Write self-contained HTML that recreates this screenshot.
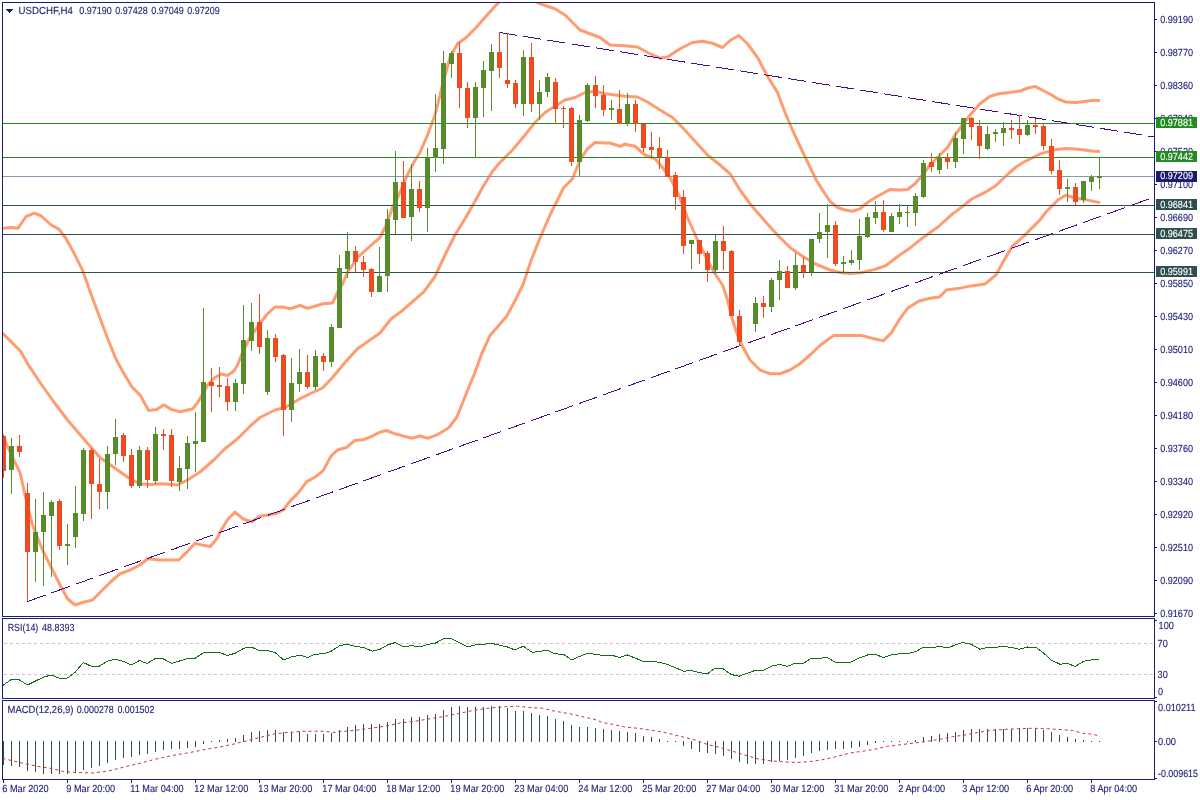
<!DOCTYPE html>
<html lang="en"><head><meta charset="utf-8"><title>USDCHF,H4</title>
<style>html,body{margin:0;padding:0;background:#fff;width:1200px;height:800px;overflow:hidden}svg{display:block}text{font-family:"Liberation Sans",sans-serif;font-size:10.3px;text-rendering:geometricPrecision;fill:#1b1b72;stroke:#1b1b72;stroke-width:.12px}.w{fill:#fff;stroke:#fff}.c{shape-rendering:crispEdges}</style></head><body>
<svg width="1200" height="800" viewBox="0 0 1200 800">
<rect width="1200" height="800" fill="#fff"/>
<defs><clipPath id="cm"><rect x="3" y="3" width="1151" height="613"/></clipPath><clipPath id="cr"><rect x="3" y="619" width="1151" height="79"/></clipPath><clipPath id="cd"><rect x="3" y="701" width="1151" height="78"/></clipPath></defs>
<g clip-path="url(#cm)">
<polyline fill="none" stroke="#ff9c72" stroke-width="3" stroke-linejoin="round" stroke-linecap="butt"  points="-2,228.5 2.75,228.3 11,227.5 17.9,228.3 26.1,216.5 34.4,213.2 41.25,216 50.9,224.75 59.1,229.4 66,238.5 74.25,253.6 82.5,270.1 90.75,293.5 99,315.5 107.25,337.5 115.5,358.1 123.75,373.25 132,387 140.25,395.25 148.5,410.4 156.75,409.6 163.6,404.9 171.9,409.6 180.1,411.75 192.5,409 198,402.1 203.5,392.5 207.5,385 215,377.5 221,374 227.5,375.5 233.75,371.25 237.5,365 242.5,352.5 250,337.5 258.75,325 267.5,313.75 275,307 282.5,307 290,308.75 300,305.5 307.5,308.25 315,306.25 322.5,303.75 332.5,303 337.5,292.5 342.5,284 347.5,272.5 357.5,257.5 370,246.25 380,237.5 386.25,225 392.5,207.5 400,192.5 406.25,177.5 413.75,162.5 420,152.5 427.5,135 435,115 442.5,85 450,57.5 457.5,43.75 466.25,37.5 475,28.75 485,17.5 495,6.25 498.75,2.5 506,-4 516,-8 528,-4 537.5,2.5 545,5.5 555,8.75 565,15 572.5,22.5 580,30 590,33.75 600,37.5 610,45 625,45.75 637.5,47 647.5,52.5 660,58 667.5,57 680,48.75 692.5,42.5 702.5,41.25 712.5,43.25 722.5,47.5 730,40.5 738.75,35.5 747.5,43.75 757.5,57.5 767.5,76.25 777.5,92.5 785,112.5 792.5,130 800,146.25 808,163 816.25,180 822.5,190 830,201.25 837.5,207.5 845,210 852.5,211.25 860,208.75 867.5,202.5 877.5,196.25 890,189.5 900,190 907.5,189.5 915,183.75 922.5,175 930,165 940,155 947.5,147.5 955,135 962.5,125 970,115 980,103.75 990,96.25 1000,93.5 1010,92.5 1020,91 1028,88 1035,86.4 1042,90 1050,94 1058,99 1066,102 1076,102.4 1084,101.4 1092,100.6 1100,100.6"/>
<polyline fill="none" stroke="#ff9c72" stroke-width="3" stroke-linejoin="round" stroke-linecap="butt"  points="-2,330 2.75,333.4 11,341.6 20.6,351.25 27.5,363.6 41.25,384.25 55,403.5 67.5,420 82.5,437.5 100,457.5 117.5,470 130,478.75 140,483.75 150,484.5 162.5,483.75 177.5,485 187.5,480 200,472 213.75,460 225,448.75 237.5,438.75 250,426.25 260,417.5 275,410 285,407.5 300,398.75 310,393.75 322.5,388 332.5,377.5 345,362.5 357.5,348.75 370,340 380,333 391,319 402,310.9 413,301.25 424,291.6 435,276.5 445,255 455,235 465,218.75 475,201.25 482.5,187.5 492.5,171.25 500,162.5 512.5,150 525,135 535,122.5 545,112.5 555,106.25 565,100 575,97.5 585,92.5 595,91.25 605,93.75 615,95 625,96.25 637.5,97 647.5,102 660,110 672.5,117.5 682.5,127.5 695,141.25 707.5,155 720,165 730,173.75 740,190 750,203.75 765,221.25 777.5,235 790,247.5 802.5,256.25 815,263.75 830,270 840,272.5 850,273.5 861,272.7 875,269.4 886,265.5 897,257 910.75,247.4 924.5,236.4 938.25,226.75 952,214.4 963,206.1 971.25,199.25 985,192.4 996,185.5 1008,174 1016,167 1024,162 1032,158 1040,154 1048,151.6 1056,149.6 1066,148.6 1076,149 1084,150 1092,151 1100,151.6"/>
<polyline fill="none" stroke="#ff9c72" stroke-width="3" stroke-linejoin="round" stroke-linecap="butt"  points="-2,425 2.5,435 12.5,457.5 20,472.5 25,495 32.5,525 42.5,550 52.5,570 60,585 67.5,598.75 75,605 82.5,602.5 92.5,600 100,592.5 110,582.5 120,573.75 130,570 140,565 147.5,558.75 160,560 178.75,560 188.25,550.6 195.1,543.2 202,545.1 210.25,546.5 217.1,538.25 221.25,530 228.1,519 235,512.1 243.25,519 251.5,521.75 259.75,516.25 268,514.9 276.25,513.5 283.1,510.2 290,501.1 298.25,492.9 306.5,481.9 314.75,477.2 323,470.9 331.25,455.75 338.1,449.7 346.4,447.5 354.6,440.6 362.9,439.8 372.5,436 379.4,432.4 386.25,430.5 393.1,433.2 400,435.1 411.6,438.2 419.9,436 428.1,438.2 437.75,434.6 448.75,427.75 457,416.75 462.5,403 468,389.25 474.9,372.75 481.75,353.5 490,335.6 498.25,326 506.5,316.4 514.75,301.25 523,284.75 528.5,268.25 531.25,260 540,238 550,215 557.5,200 563.75,187.5 572.5,178.75 580,160 587.5,148.75 595,142.5 605,143 610,143 620,146.25 625,144.25 635,146.25 645,155 655,158.75 662.5,167.5 670,177.5 678.75,195 687.5,217.5 697.5,240 707.5,260 715,273.75 722.5,285 727.5,300 732.5,320 737.5,335 742.5,346.25 750,360 760,370 770,373.75 780,373.75 790,370 800,363.75 810,355 820,345.5 833.75,335.4 847.5,335.4 861.25,335.4 875,339 883.25,340.9 891.5,332.6 899.75,318.9 908,307.9 919,301 930,298.25 939.6,296.9 946.5,290 957.5,288.6 971.25,285.9 985,284 996,274.9 1004.25,259.75 1012.5,246 1023.5,236.4 1034.5,225.4 1040,220 1046,212 1052,206 1058,200 1066,195 1074,198 1082,199 1090,200.6 1100,202.6"/>
<g class="c">
<rect x="3" y="123" width="1151" height="1" fill="#228b22"/>
<rect x="3" y="157" width="1151" height="1" fill="#228b22"/>
<rect x="3" y="176" width="1151" height="1" fill="#8a96ac"/>
<rect x="3" y="205" width="1151" height="1" fill="#2f4f4f"/>
<rect x="3" y="234" width="1151" height="1" fill="#2f4f4f"/>
<rect x="3" y="272" width="1151" height="1" fill="#2f4f4f"/>
<line x1="27.5" y1="601.5" x2="1149.5" y2="198.8" stroke="#4b0a8a" stroke-width="1" stroke-dasharray="19.12 6.375"/>
<line x1="499.5" y1="32.5" x2="1154" y2="136.9" stroke="#4b0a8a" stroke-width="1" stroke-dasharray="18.23 6.08"/>
<rect x="3" y="435" width="1" height="43" fill="#f04a1e"/>
<rect x="1" y="436" width="5" height="35" fill="#f04a1e"/>
<rect x="11" y="438" width="1" height="56" fill="#568c2c"/>
<rect x="9" y="446" width="5" height="24" fill="#568c2c"/>
<rect x="19" y="435" width="1" height="22" fill="#f04a1e"/>
<rect x="17" y="446" width="5" height="6" fill="#f04a1e"/>
<rect x="27" y="483" width="1" height="118" fill="#f04a1e"/>
<rect x="25" y="493" width="5" height="59" fill="#f04a1e"/>
<rect x="35" y="499" width="1" height="83" fill="#568c2c"/>
<rect x="33" y="532" width="5" height="20" fill="#568c2c"/>
<rect x="43" y="492" width="1" height="94" fill="#568c2c"/>
<rect x="41" y="515" width="5" height="17" fill="#568c2c"/>
<rect x="51" y="500" width="1" height="77" fill="#568c2c"/>
<rect x="49" y="502" width="5" height="14" fill="#568c2c"/>
<rect x="59" y="499" width="1" height="51" fill="#f04a1e"/>
<rect x="57" y="501" width="5" height="45" fill="#f04a1e"/>
<rect x="67" y="524" width="1" height="41" fill="#568c2c"/>
<rect x="65" y="544" width="5" height="2" fill="#568c2c"/>
<rect x="75" y="486" width="1" height="62" fill="#568c2c"/>
<rect x="73" y="513" width="5" height="24" fill="#568c2c"/>
<rect x="83" y="448" width="1" height="73" fill="#568c2c"/>
<rect x="81" y="450" width="5" height="64" fill="#568c2c"/>
<rect x="91" y="448" width="1" height="71" fill="#f04a1e"/>
<rect x="89" y="450" width="5" height="34" fill="#f04a1e"/>
<rect x="99" y="459" width="1" height="50" fill="#f04a1e"/>
<rect x="97" y="484" width="5" height="8" fill="#f04a1e"/>
<rect x="107" y="446" width="1" height="63" fill="#568c2c"/>
<rect x="105" y="454" width="5" height="38" fill="#568c2c"/>
<rect x="115" y="419" width="1" height="46" fill="#568c2c"/>
<rect x="113" y="437" width="5" height="17" fill="#568c2c"/>
<rect x="123" y="433" width="1" height="29" fill="#f04a1e"/>
<rect x="121" y="435" width="5" height="21" fill="#f04a1e"/>
<rect x="131" y="449" width="1" height="39" fill="#f04a1e"/>
<rect x="129" y="455" width="5" height="31" fill="#f04a1e"/>
<rect x="139" y="446" width="1" height="42" fill="#568c2c"/>
<rect x="137" y="450" width="5" height="36" fill="#568c2c"/>
<rect x="147" y="447" width="1" height="41" fill="#f04a1e"/>
<rect x="145" y="450" width="5" height="30" fill="#f04a1e"/>
<rect x="155" y="427" width="1" height="57" fill="#568c2c"/>
<rect x="153" y="434" width="5" height="47" fill="#568c2c"/>
<rect x="163" y="429" width="1" height="21" fill="#f04a1e"/>
<rect x="161" y="434" width="5" height="2" fill="#f04a1e"/>
<rect x="171" y="429" width="1" height="58" fill="#f04a1e"/>
<rect x="169" y="435" width="5" height="46" fill="#f04a1e"/>
<rect x="179" y="456" width="1" height="35" fill="#568c2c"/>
<rect x="177" y="468" width="5" height="14" fill="#568c2c"/>
<rect x="187" y="436" width="1" height="53" fill="#568c2c"/>
<rect x="185" y="443" width="5" height="26" fill="#568c2c"/>
<rect x="195" y="412" width="1" height="60" fill="#568c2c"/>
<rect x="193" y="441" width="5" height="3" fill="#568c2c"/>
<rect x="203" y="308" width="1" height="134" fill="#568c2c"/>
<rect x="201" y="382" width="5" height="60" fill="#568c2c"/>
<rect x="211" y="368" width="1" height="44" fill="#f04a1e"/>
<rect x="209" y="382" width="5" height="4" fill="#f04a1e"/>
<rect x="219" y="367" width="1" height="30" fill="#f04a1e"/>
<rect x="217" y="385" width="5" height="2" fill="#f04a1e"/>
<rect x="227" y="378" width="1" height="33" fill="#f04a1e"/>
<rect x="225" y="386" width="5" height="16" fill="#f04a1e"/>
<rect x="235" y="379" width="1" height="32" fill="#568c2c"/>
<rect x="233" y="383" width="5" height="19" fill="#568c2c"/>
<rect x="243" y="305" width="1" height="89" fill="#568c2c"/>
<rect x="241" y="340" width="5" height="44" fill="#568c2c"/>
<rect x="251" y="303" width="1" height="48" fill="#568c2c"/>
<rect x="249" y="322" width="5" height="19" fill="#568c2c"/>
<rect x="259" y="294" width="1" height="60" fill="#f04a1e"/>
<rect x="257" y="322" width="5" height="25" fill="#f04a1e"/>
<rect x="267" y="330" width="1" height="65" fill="#568c2c"/>
<rect x="265" y="338" width="5" height="54" fill="#568c2c"/>
<rect x="275" y="334" width="1" height="28" fill="#f04a1e"/>
<rect x="273" y="338" width="5" height="19" fill="#f04a1e"/>
<rect x="283" y="354" width="1" height="82" fill="#f04a1e"/>
<rect x="281" y="355" width="5" height="55" fill="#f04a1e"/>
<rect x="291" y="358" width="1" height="64" fill="#568c2c"/>
<rect x="289" y="383" width="5" height="27" fill="#568c2c"/>
<rect x="299" y="349" width="1" height="43" fill="#568c2c"/>
<rect x="297" y="372" width="5" height="12" fill="#568c2c"/>
<rect x="307" y="355" width="1" height="34" fill="#f04a1e"/>
<rect x="305" y="372" width="5" height="15" fill="#f04a1e"/>
<rect x="315" y="350" width="1" height="40" fill="#568c2c"/>
<rect x="313" y="356" width="5" height="31" fill="#568c2c"/>
<rect x="323" y="353" width="1" height="18" fill="#f04a1e"/>
<rect x="321" y="356" width="5" height="6" fill="#f04a1e"/>
<rect x="331" y="324" width="1" height="43" fill="#568c2c"/>
<rect x="329" y="327" width="5" height="35" fill="#568c2c"/>
<rect x="339" y="255" width="1" height="73" fill="#568c2c"/>
<rect x="337" y="268" width="5" height="60" fill="#568c2c"/>
<rect x="347" y="232" width="1" height="46" fill="#568c2c"/>
<rect x="345" y="251" width="5" height="18" fill="#568c2c"/>
<rect x="355" y="246" width="1" height="26" fill="#f04a1e"/>
<rect x="353" y="251" width="5" height="11" fill="#f04a1e"/>
<rect x="363" y="256" width="1" height="21" fill="#f04a1e"/>
<rect x="361" y="262" width="5" height="8" fill="#f04a1e"/>
<rect x="371" y="268" width="1" height="29" fill="#f04a1e"/>
<rect x="369" y="269" width="5" height="23" fill="#f04a1e"/>
<rect x="379" y="247" width="1" height="45" fill="#568c2c"/>
<rect x="377" y="276" width="5" height="16" fill="#568c2c"/>
<rect x="387" y="209" width="1" height="83" fill="#568c2c"/>
<rect x="385" y="219" width="5" height="57" fill="#568c2c"/>
<rect x="395" y="151" width="1" height="83" fill="#568c2c"/>
<rect x="393" y="182" width="5" height="38" fill="#568c2c"/>
<rect x="403" y="161" width="1" height="57" fill="#f04a1e"/>
<rect x="401" y="182" width="5" height="36" fill="#f04a1e"/>
<rect x="411" y="164" width="1" height="77" fill="#568c2c"/>
<rect x="409" y="189" width="5" height="28" fill="#568c2c"/>
<rect x="419" y="181" width="1" height="31" fill="#f04a1e"/>
<rect x="417" y="189" width="5" height="19" fill="#f04a1e"/>
<rect x="427" y="148" width="1" height="84" fill="#568c2c"/>
<rect x="425" y="158" width="5" height="50" fill="#568c2c"/>
<rect x="435" y="94" width="1" height="78" fill="#568c2c"/>
<rect x="433" y="148" width="5" height="10" fill="#568c2c"/>
<rect x="443" y="51" width="1" height="113" fill="#568c2c"/>
<rect x="441" y="63" width="5" height="86" fill="#568c2c"/>
<rect x="451" y="51" width="1" height="27" fill="#568c2c"/>
<rect x="449" y="53" width="5" height="11" fill="#568c2c"/>
<rect x="459" y="42" width="1" height="66" fill="#f04a1e"/>
<rect x="457" y="53" width="5" height="35" fill="#f04a1e"/>
<rect x="467" y="82" width="1" height="46" fill="#f04a1e"/>
<rect x="465" y="88" width="5" height="30" fill="#f04a1e"/>
<rect x="475" y="82" width="1" height="76" fill="#568c2c"/>
<rect x="473" y="87" width="5" height="31" fill="#568c2c"/>
<rect x="483" y="61" width="1" height="56" fill="#568c2c"/>
<rect x="481" y="70" width="5" height="18" fill="#568c2c"/>
<rect x="491" y="44" width="1" height="67" fill="#568c2c"/>
<rect x="489" y="52" width="5" height="19" fill="#568c2c"/>
<rect x="499" y="32" width="1" height="46" fill="#f04a1e"/>
<rect x="497" y="52" width="5" height="16" fill="#f04a1e"/>
<rect x="507" y="33" width="1" height="55" fill="#f04a1e"/>
<rect x="505" y="80" width="5" height="4" fill="#f04a1e"/>
<rect x="515" y="80" width="1" height="28" fill="#f04a1e"/>
<rect x="513" y="83" width="5" height="21" fill="#f04a1e"/>
<rect x="523" y="50" width="1" height="66" fill="#568c2c"/>
<rect x="521" y="57" width="5" height="47" fill="#568c2c"/>
<rect x="531" y="43" width="1" height="69" fill="#f04a1e"/>
<rect x="529" y="57" width="5" height="47" fill="#f04a1e"/>
<rect x="539" y="80" width="1" height="40" fill="#568c2c"/>
<rect x="537" y="92" width="5" height="12" fill="#568c2c"/>
<rect x="547" y="73" width="1" height="24" fill="#568c2c"/>
<rect x="545" y="77" width="5" height="15" fill="#568c2c"/>
<rect x="555" y="78" width="1" height="46" fill="#f04a1e"/>
<rect x="553" y="82" width="5" height="27" fill="#f04a1e"/>
<rect x="563" y="106" width="1" height="22" fill="#f04a1e"/>
<rect x="561" y="108" width="5" height="1" fill="#f04a1e"/>
<rect x="571" y="107" width="1" height="59" fill="#f04a1e"/>
<rect x="569" y="108" width="5" height="54" fill="#f04a1e"/>
<rect x="579" y="115" width="1" height="61" fill="#568c2c"/>
<rect x="577" y="120" width="5" height="42" fill="#568c2c"/>
<rect x="587" y="83" width="1" height="39" fill="#568c2c"/>
<rect x="585" y="85" width="5" height="36" fill="#568c2c"/>
<rect x="595" y="76" width="1" height="32" fill="#f04a1e"/>
<rect x="593" y="85" width="5" height="11" fill="#f04a1e"/>
<rect x="603" y="85" width="1" height="31" fill="#f04a1e"/>
<rect x="601" y="95" width="5" height="15" fill="#f04a1e"/>
<rect x="611" y="100" width="1" height="20" fill="#568c2c"/>
<rect x="609" y="108" width="5" height="2" fill="#568c2c"/>
<rect x="619" y="90" width="1" height="34" fill="#f04a1e"/>
<rect x="617" y="109" width="5" height="15" fill="#f04a1e"/>
<rect x="627" y="93" width="1" height="33" fill="#568c2c"/>
<rect x="625" y="104" width="5" height="19" fill="#568c2c"/>
<rect x="635" y="100" width="1" height="32" fill="#f04a1e"/>
<rect x="633" y="104" width="5" height="20" fill="#f04a1e"/>
<rect x="643" y="123" width="1" height="29" fill="#f04a1e"/>
<rect x="641" y="124" width="5" height="24" fill="#f04a1e"/>
<rect x="651" y="132" width="1" height="25" fill="#f04a1e"/>
<rect x="649" y="147" width="5" height="3" fill="#f04a1e"/>
<rect x="659" y="137" width="1" height="32" fill="#f04a1e"/>
<rect x="657" y="148" width="5" height="9" fill="#f04a1e"/>
<rect x="667" y="150" width="1" height="27" fill="#f04a1e"/>
<rect x="665" y="157" width="5" height="20" fill="#f04a1e"/>
<rect x="675" y="172" width="1" height="38" fill="#f04a1e"/>
<rect x="673" y="175" width="5" height="22" fill="#f04a1e"/>
<rect x="683" y="190" width="1" height="64" fill="#f04a1e"/>
<rect x="681" y="197" width="5" height="49" fill="#f04a1e"/>
<rect x="691" y="240" width="1" height="29" fill="#568c2c"/>
<rect x="689" y="240" width="5" height="4" fill="#568c2c"/>
<rect x="699" y="240" width="1" height="24" fill="#f04a1e"/>
<rect x="697" y="240" width="5" height="14" fill="#f04a1e"/>
<rect x="707" y="251" width="1" height="31" fill="#f04a1e"/>
<rect x="705" y="253" width="5" height="17" fill="#f04a1e"/>
<rect x="715" y="235" width="1" height="39" fill="#568c2c"/>
<rect x="713" y="241" width="5" height="29" fill="#568c2c"/>
<rect x="723" y="226" width="1" height="44" fill="#f04a1e"/>
<rect x="721" y="241" width="5" height="10" fill="#f04a1e"/>
<rect x="731" y="250" width="1" height="66" fill="#f04a1e"/>
<rect x="729" y="251" width="5" height="65" fill="#f04a1e"/>
<rect x="739" y="310" width="1" height="36" fill="#f04a1e"/>
<rect x="737" y="316" width="5" height="26" fill="#f04a1e"/>
<rect x="747" y="315" width="1" height="32" fill="#fdeee8"/>
<rect x="745" y="324" width="5" height="1" fill="#fdeee8"/>
<rect x="755" y="297" width="1" height="35" fill="#568c2c"/>
<rect x="753" y="303" width="5" height="21" fill="#568c2c"/>
<rect x="763" y="296" width="1" height="22" fill="#f04a1e"/>
<rect x="761" y="303" width="5" height="4" fill="#f04a1e"/>
<rect x="771" y="278" width="1" height="34" fill="#568c2c"/>
<rect x="769" y="280" width="5" height="27" fill="#568c2c"/>
<rect x="779" y="260" width="1" height="40" fill="#568c2c"/>
<rect x="777" y="271" width="5" height="9" fill="#568c2c"/>
<rect x="787" y="266" width="1" height="22" fill="#f04a1e"/>
<rect x="785" y="271" width="5" height="17" fill="#f04a1e"/>
<rect x="795" y="253" width="1" height="37" fill="#568c2c"/>
<rect x="793" y="265" width="5" height="23" fill="#568c2c"/>
<rect x="803" y="257" width="1" height="21" fill="#f04a1e"/>
<rect x="801" y="265" width="5" height="7" fill="#f04a1e"/>
<rect x="811" y="239" width="1" height="37" fill="#568c2c"/>
<rect x="809" y="239" width="5" height="33" fill="#568c2c"/>
<rect x="819" y="213" width="1" height="30" fill="#568c2c"/>
<rect x="817" y="232" width="5" height="7" fill="#568c2c"/>
<rect x="827" y="204" width="1" height="54" fill="#568c2c"/>
<rect x="825" y="225" width="5" height="7" fill="#568c2c"/>
<rect x="835" y="221" width="1" height="45" fill="#f04a1e"/>
<rect x="833" y="225" width="5" height="39" fill="#f04a1e"/>
<rect x="843" y="256" width="1" height="18" fill="#568c2c"/>
<rect x="841" y="262" width="5" height="2" fill="#568c2c"/>
<rect x="851" y="250" width="1" height="15" fill="#568c2c"/>
<rect x="849" y="260" width="5" height="3" fill="#568c2c"/>
<rect x="859" y="219" width="1" height="51" fill="#568c2c"/>
<rect x="857" y="236" width="5" height="24" fill="#568c2c"/>
<rect x="867" y="213" width="1" height="25" fill="#568c2c"/>
<rect x="865" y="217" width="5" height="20" fill="#568c2c"/>
<rect x="875" y="201" width="1" height="23" fill="#568c2c"/>
<rect x="873" y="212" width="5" height="6" fill="#568c2c"/>
<rect x="883" y="200" width="1" height="32" fill="#f04a1e"/>
<rect x="881" y="212" width="5" height="18" fill="#f04a1e"/>
<rect x="891" y="213" width="1" height="19" fill="#568c2c"/>
<rect x="889" y="216" width="5" height="16" fill="#568c2c"/>
<rect x="899" y="204" width="1" height="20" fill="#568c2c"/>
<rect x="897" y="212" width="5" height="5" fill="#568c2c"/>
<rect x="907" y="205" width="1" height="22" fill="#568c2c"/>
<rect x="905" y="212" width="5" height="1" fill="#568c2c"/>
<rect x="915" y="193" width="1" height="33" fill="#568c2c"/>
<rect x="913" y="196" width="5" height="17" fill="#568c2c"/>
<rect x="923" y="160" width="1" height="38" fill="#568c2c"/>
<rect x="921" y="163" width="5" height="34" fill="#568c2c"/>
<rect x="931" y="153" width="1" height="19" fill="#f04a1e"/>
<rect x="929" y="162" width="5" height="5" fill="#f04a1e"/>
<rect x="939" y="153" width="1" height="21" fill="#568c2c"/>
<rect x="937" y="157" width="5" height="13" fill="#568c2c"/>
<rect x="947" y="153" width="1" height="16" fill="#f04a1e"/>
<rect x="945" y="157" width="5" height="5" fill="#f04a1e"/>
<rect x="955" y="132" width="1" height="36" fill="#568c2c"/>
<rect x="953" y="138" width="5" height="24" fill="#568c2c"/>
<rect x="963" y="118" width="1" height="36" fill="#568c2c"/>
<rect x="961" y="118" width="5" height="21" fill="#568c2c"/>
<rect x="971" y="117" width="1" height="23" fill="#f04a1e"/>
<rect x="969" y="118" width="5" height="9" fill="#f04a1e"/>
<rect x="979" y="120" width="1" height="39" fill="#f04a1e"/>
<rect x="977" y="126" width="5" height="20" fill="#f04a1e"/>
<rect x="987" y="126" width="1" height="24" fill="#568c2c"/>
<rect x="985" y="134" width="5" height="15" fill="#568c2c"/>
<rect x="995" y="129" width="1" height="13" fill="#568c2c"/>
<rect x="993" y="132" width="5" height="2" fill="#568c2c"/>
<rect x="1003" y="122" width="1" height="24" fill="#568c2c"/>
<rect x="1001" y="128" width="5" height="5" fill="#568c2c"/>
<rect x="1011" y="120" width="1" height="19" fill="#f04a1e"/>
<rect x="1009" y="128" width="5" height="2" fill="#f04a1e"/>
<rect x="1019" y="115" width="1" height="29" fill="#f04a1e"/>
<rect x="1017" y="129" width="5" height="6" fill="#f04a1e"/>
<rect x="1027" y="120" width="1" height="16" fill="#568c2c"/>
<rect x="1025" y="125" width="5" height="10" fill="#568c2c"/>
<rect x="1035" y="119" width="1" height="15" fill="#f04a1e"/>
<rect x="1033" y="125" width="5" height="2" fill="#f04a1e"/>
<rect x="1043" y="123" width="1" height="27" fill="#f04a1e"/>
<rect x="1041" y="126" width="5" height="20" fill="#f04a1e"/>
<rect x="1051" y="139" width="1" height="35" fill="#f04a1e"/>
<rect x="1049" y="146" width="5" height="25" fill="#f04a1e"/>
<rect x="1059" y="160" width="1" height="35" fill="#f04a1e"/>
<rect x="1057" y="170" width="5" height="19" fill="#f04a1e"/>
<rect x="1067" y="179" width="1" height="23" fill="#568c2c"/>
<rect x="1065" y="187" width="5" height="2" fill="#568c2c"/>
<rect x="1075" y="183" width="1" height="22" fill="#f04a1e"/>
<rect x="1073" y="187" width="5" height="15" fill="#f04a1e"/>
<rect x="1083" y="181" width="1" height="22" fill="#568c2c"/>
<rect x="1081" y="181" width="5" height="19" fill="#568c2c"/>
<rect x="1091" y="175" width="1" height="16" fill="#568c2c"/>
<rect x="1089" y="177" width="5" height="5" fill="#568c2c"/>
<rect x="1099" y="157" width="1" height="32" fill="#568c2c"/>
<rect x="1097" y="176" width="5" height="2" fill="#568c2c"/>
</g>
</g>
<g clip-path="url(#cr)">
<g class="c">
<line x1="4" y1="643.5" x2="1154" y2="643.5" stroke="#c4c4c4" stroke-width="1" stroke-dasharray="3 3"/>
<line x1="4" y1="674.5" x2="1154" y2="674.5" stroke="#c4c4c4" stroke-width="1" stroke-dasharray="3 3"/>
</g>
<polyline fill="none" stroke="#146c14" stroke-width="1" stroke-linejoin="round" stroke-linecap="butt" shape-rendering="crispEdges" points="2.5,685.75 11.25,679.5 18.75,679.5 27.5,685 35,681.25 43.75,677 51.25,675 59.25,678.25 67,678.25 75,672.5 83.25,662.5 91.25,666.25 99.25,666.25 107.5,661.25 115,659.25 123,661.25 131.25,665 139.5,660.5 147,663.5 155,658.75 163,658.75 171.75,663.25 178.75,661.25 187,658.75 195,658.25 203.75,652.5 211.25,652 219.5,652.5 227.5,655.5 235,653.25 243.75,648.25 251.25,647 259.25,650.5 267.5,650.5 275,652.5 283.75,660 291.25,657 300,655 307.5,657.5 315,654.25 323.75,653.75 331.25,651.25 340,645.5 347.5,644.25 355,646.25 363.75,647.5 372.5,651.25 380,649.25 387.5,645 395,642.5 403.75,647 411.25,645.5 419.5,647 427.5,644.5 435,643.25 443.75,638.75 451.25,638.75 458.75,642.5 467.5,646.75 475,645 482.5,644.5 491.25,643.25 498.75,645 507.5,647 515,650 523.25,646.25 532.5,652.5 540,651.25 547.5,650.5 555,653.75 563.75,654.5 571.75,660 580,656.25 587.5,653.25 595,654.25 600,655 611.25,655 619.5,657.5 627.5,655 635,658 643,661.25 651.25,661.25 660,662.5 667.5,664.5 675,667.5 683.75,671.25 691.25,670.5 698.75,672.5 707.5,673.75 715,668.25 723,668.75 731.25,674.5 738.75,676.25 747.5,673.25 755,670.5 763,670.5 771.25,666.25 779.5,664.5 787.5,666.25 795,663.25 803.75,663.25 811.25,658.25 819.5,658.25 827,657.5 835,662 843,662.5 851.25,662 858.75,658.25 867.5,655 875,654.25 883.25,657.5 891.25,655 900,653.75 907.5,653.75 916.25,651.25 923.75,647 931.25,648 939.25,646.25 947.5,648 955,645 962.5,642.5 971.25,644.25 980,649.25 987.5,647.5 995,647.5 1002.5,646.25 1011.25,647.5 1019.5,649.25 1027.5,647 1036.25,647.5 1043.75,653.25 1051.25,660 1060,664.25 1067.5,663.25 1075,666.5 1083.75,661.25 1091.25,660 1098.75,659.25"/>
</g>
<g clip-path="url(#cd)"><g class="c">
<rect x="3" y="741" width="1" height="24" fill="#2f4f4f"/>
<rect x="11" y="741" width="1" height="25" fill="#2f4f4f"/>
<rect x="19" y="741" width="1" height="26" fill="#2f4f4f"/>
<rect x="27" y="741" width="1" height="30" fill="#2f4f4f"/>
<rect x="35" y="741" width="1" height="31" fill="#2f4f4f"/>
<rect x="43" y="741" width="1" height="33" fill="#2f4f4f"/>
<rect x="51" y="741" width="1" height="33" fill="#2f4f4f"/>
<rect x="59" y="741" width="1" height="33" fill="#2f4f4f"/>
<rect x="67" y="741" width="1" height="33" fill="#2f4f4f"/>
<rect x="75" y="741" width="1" height="32" fill="#2f4f4f"/>
<rect x="83" y="741" width="1" height="29" fill="#2f4f4f"/>
<rect x="91" y="741" width="1" height="27" fill="#2f4f4f"/>
<rect x="99" y="741" width="1" height="25" fill="#2f4f4f"/>
<rect x="107" y="741" width="1" height="22" fill="#2f4f4f"/>
<rect x="115" y="741" width="1" height="19" fill="#2f4f4f"/>
<rect x="123" y="741" width="1" height="17" fill="#2f4f4f"/>
<rect x="131" y="741" width="1" height="16" fill="#2f4f4f"/>
<rect x="139" y="741" width="1" height="14" fill="#2f4f4f"/>
<rect x="147" y="741" width="1" height="13" fill="#2f4f4f"/>
<rect x="155" y="741" width="1" height="11" fill="#2f4f4f"/>
<rect x="163" y="741" width="1" height="9" fill="#2f4f4f"/>
<rect x="171" y="741" width="1" height="8" fill="#2f4f4f"/>
<rect x="179" y="741" width="1" height="8" fill="#2f4f4f"/>
<rect x="187" y="741" width="1" height="7" fill="#2f4f4f"/>
<rect x="195" y="741" width="1" height="6" fill="#2f4f4f"/>
<rect x="203" y="741" width="1" height="3" fill="#2f4f4f"/>
<rect x="211" y="741" width="1" height="1" fill="#2f4f4f"/>
<rect x="219" y="740" width="1" height="2" fill="#2f4f4f"/>
<rect x="227" y="739" width="1" height="3" fill="#2f4f4f"/>
<rect x="235" y="738" width="1" height="4" fill="#2f4f4f"/>
<rect x="243" y="735" width="1" height="7" fill="#2f4f4f"/>
<rect x="251" y="732" width="1" height="10" fill="#2f4f4f"/>
<rect x="259" y="731" width="1" height="11" fill="#2f4f4f"/>
<rect x="267" y="730" width="1" height="12" fill="#2f4f4f"/>
<rect x="275" y="730" width="1" height="12" fill="#2f4f4f"/>
<rect x="283" y="732" width="1" height="10" fill="#2f4f4f"/>
<rect x="291" y="732" width="1" height="10" fill="#2f4f4f"/>
<rect x="299" y="732" width="1" height="10" fill="#2f4f4f"/>
<rect x="307" y="734" width="1" height="8" fill="#2f4f4f"/>
<rect x="315" y="734" width="1" height="8" fill="#2f4f4f"/>
<rect x="323" y="734" width="1" height="8" fill="#2f4f4f"/>
<rect x="331" y="733" width="1" height="9" fill="#2f4f4f"/>
<rect x="339" y="730" width="1" height="12" fill="#2f4f4f"/>
<rect x="347" y="727" width="1" height="15" fill="#2f4f4f"/>
<rect x="355" y="725" width="1" height="17" fill="#2f4f4f"/>
<rect x="363" y="724" width="1" height="18" fill="#2f4f4f"/>
<rect x="371" y="724" width="1" height="18" fill="#2f4f4f"/>
<rect x="379" y="724" width="1" height="18" fill="#2f4f4f"/>
<rect x="387" y="722" width="1" height="20" fill="#2f4f4f"/>
<rect x="395" y="719" width="1" height="23" fill="#2f4f4f"/>
<rect x="403" y="719" width="1" height="23" fill="#2f4f4f"/>
<rect x="411" y="717" width="1" height="25" fill="#2f4f4f"/>
<rect x="419" y="717" width="1" height="25" fill="#2f4f4f"/>
<rect x="427" y="715" width="1" height="27" fill="#2f4f4f"/>
<rect x="435" y="714" width="1" height="28" fill="#2f4f4f"/>
<rect x="443" y="710" width="1" height="32" fill="#2f4f4f"/>
<rect x="451" y="707" width="1" height="35" fill="#2f4f4f"/>
<rect x="459" y="706" width="1" height="36" fill="#2f4f4f"/>
<rect x="467" y="707" width="1" height="35" fill="#2f4f4f"/>
<rect x="475" y="707" width="1" height="35" fill="#2f4f4f"/>
<rect x="483" y="707" width="1" height="35" fill="#2f4f4f"/>
<rect x="491" y="706" width="1" height="36" fill="#2f4f4f"/>
<rect x="499" y="706" width="1" height="36" fill="#2f4f4f"/>
<rect x="507" y="708" width="1" height="34" fill="#2f4f4f"/>
<rect x="515" y="711" width="1" height="31" fill="#2f4f4f"/>
<rect x="523" y="711" width="1" height="31" fill="#2f4f4f"/>
<rect x="531" y="713" width="1" height="29" fill="#2f4f4f"/>
<rect x="539" y="715" width="1" height="27" fill="#2f4f4f"/>
<rect x="547" y="716" width="1" height="26" fill="#2f4f4f"/>
<rect x="555" y="719" width="1" height="23" fill="#2f4f4f"/>
<rect x="563" y="721" width="1" height="21" fill="#2f4f4f"/>
<rect x="571" y="725" width="1" height="17" fill="#2f4f4f"/>
<rect x="579" y="727" width="1" height="15" fill="#2f4f4f"/>
<rect x="587" y="727" width="1" height="15" fill="#2f4f4f"/>
<rect x="595" y="728" width="1" height="14" fill="#2f4f4f"/>
<rect x="603" y="729" width="1" height="13" fill="#2f4f4f"/>
<rect x="611" y="730" width="1" height="12" fill="#2f4f4f"/>
<rect x="619" y="731" width="1" height="11" fill="#2f4f4f"/>
<rect x="627" y="732" width="1" height="10" fill="#2f4f4f"/>
<rect x="635" y="733" width="1" height="9" fill="#2f4f4f"/>
<rect x="643" y="736" width="1" height="6" fill="#2f4f4f"/>
<rect x="651" y="737" width="1" height="5" fill="#2f4f4f"/>
<rect x="659" y="739" width="1" height="3" fill="#2f4f4f"/>
<rect x="667" y="741" width="1" height="1" fill="#2f4f4f"/>
<rect x="675" y="741" width="1" height="1" fill="#2f4f4f"/>
<rect x="683" y="741" width="1" height="5" fill="#2f4f4f"/>
<rect x="691" y="741" width="1" height="8" fill="#2f4f4f"/>
<rect x="699" y="741" width="1" height="11" fill="#2f4f4f"/>
<rect x="707" y="741" width="1" height="12" fill="#2f4f4f"/>
<rect x="715" y="741" width="1" height="13" fill="#2f4f4f"/>
<rect x="723" y="741" width="1" height="15" fill="#2f4f4f"/>
<rect x="731" y="741" width="1" height="18" fill="#2f4f4f"/>
<rect x="739" y="741" width="1" height="21" fill="#2f4f4f"/>
<rect x="747" y="741" width="1" height="23" fill="#2f4f4f"/>
<rect x="755" y="741" width="1" height="23" fill="#2f4f4f"/>
<rect x="763" y="741" width="1" height="23" fill="#2f4f4f"/>
<rect x="771" y="741" width="1" height="21" fill="#2f4f4f"/>
<rect x="779" y="741" width="1" height="20" fill="#2f4f4f"/>
<rect x="787" y="741" width="1" height="19" fill="#2f4f4f"/>
<rect x="795" y="741" width="1" height="17" fill="#2f4f4f"/>
<rect x="803" y="741" width="1" height="15" fill="#2f4f4f"/>
<rect x="811" y="741" width="1" height="12" fill="#2f4f4f"/>
<rect x="819" y="741" width="1" height="10" fill="#2f4f4f"/>
<rect x="827" y="741" width="1" height="9" fill="#2f4f4f"/>
<rect x="835" y="741" width="1" height="8" fill="#2f4f4f"/>
<rect x="843" y="741" width="1" height="8" fill="#2f4f4f"/>
<rect x="851" y="741" width="1" height="7" fill="#2f4f4f"/>
<rect x="859" y="741" width="1" height="6" fill="#2f4f4f"/>
<rect x="867" y="741" width="1" height="4" fill="#2f4f4f"/>
<rect x="875" y="741" width="1" height="2" fill="#2f4f4f"/>
<rect x="883" y="741" width="1" height="1" fill="#2f4f4f"/>
<rect x="891" y="741" width="1" height="1" fill="#2f4f4f"/>
<rect x="899" y="741" width="1" height="1" fill="#2f4f4f"/>
<rect x="907" y="741" width="1" height="1" fill="#2f4f4f"/>
<rect x="915" y="740" width="1" height="2" fill="#2f4f4f"/>
<rect x="923" y="737" width="1" height="5" fill="#2f4f4f"/>
<rect x="931" y="736" width="1" height="6" fill="#2f4f4f"/>
<rect x="939" y="734" width="1" height="8" fill="#2f4f4f"/>
<rect x="947" y="733" width="1" height="9" fill="#2f4f4f"/>
<rect x="955" y="732" width="1" height="10" fill="#2f4f4f"/>
<rect x="963" y="730" width="1" height="12" fill="#2f4f4f"/>
<rect x="971" y="729" width="1" height="13" fill="#2f4f4f"/>
<rect x="979" y="729" width="1" height="13" fill="#2f4f4f"/>
<rect x="987" y="729" width="1" height="13" fill="#2f4f4f"/>
<rect x="995" y="729" width="1" height="13" fill="#2f4f4f"/>
<rect x="1003" y="729" width="1" height="13" fill="#2f4f4f"/>
<rect x="1011" y="729" width="1" height="13" fill="#2f4f4f"/>
<rect x="1019" y="728" width="1" height="14" fill="#2f4f4f"/>
<rect x="1027" y="728" width="1" height="14" fill="#2f4f4f"/>
<rect x="1035" y="729" width="1" height="13" fill="#2f4f4f"/>
<rect x="1043" y="730" width="1" height="12" fill="#2f4f4f"/>
<rect x="1051" y="732" width="1" height="10" fill="#2f4f4f"/>
<rect x="1059" y="735" width="1" height="7" fill="#2f4f4f"/>
<rect x="1067" y="737" width="1" height="5" fill="#2f4f4f"/>
<rect x="1075" y="739" width="1" height="3" fill="#2f4f4f"/>
<rect x="1083" y="740" width="1" height="2" fill="#2f4f4f"/>
<rect x="1091" y="741" width="1" height="1" fill="#2f4f4f"/>
<rect x="1099" y="741" width="1" height="1" fill="#2f4f4f"/>
</g>
<polyline fill="none" stroke="#cc3434" stroke-width="1" stroke-dasharray="3 3" points="2.5,758.25 12.5,760.75 25,763.75 37.5,766.25 50,768.25 62.5,771.25 75,772.5 92.5,773 107.5,771.25 125,766.75 140,763.25 155,759.25 175,755 190,752.5 205,749.5 220,747 235,743.75 250,740 265,736.25 275,733.75 287.5,732.5 302.5,731.25 325,731.25 332.5,732.5 345,731.25 357.5,730 372.5,728 385,726.25 400,723 415,721.25 430,718.75 445,716.25 460,713.25 475,710 490,708 505,706.75 517.5,706.25 530,707.5 542.5,708.25 555,711.25 570,713.75 582.5,716.75 595,719.5 602.5,722.5 612.5,724.25 625,727 637.5,728.25 650,730 665,732.5 680,736.25 695,740 707.5,744.5 720,747.5 732.5,751.25 745,755 757.5,758.75 770,760.75 782.5,761.75 797.5,762.5 812.5,761.25 825,759.25 837.5,756.25 850,753 862.5,751.25 875,749.25 887.5,746.25 902.5,744.5 915,743 927.5,741.25 940,739.25 952.5,736.75 965,735 977.5,732.5 990,730.5 1002.5,729.5 1017.5,728.75 1032.5,728.25 1047.5,728.75 1060,729.5 1072.5,730.5 1082.5,733.25 1092.5,734.25 1098.75,735.75"/>
</g>
<g class="c">
<rect x="2" y="2" width="1153" height="1" fill="#1b1b72"/>
<rect x="2" y="616" width="1153" height="1" fill="#1b1b72"/>
<rect x="2" y="2" width="1" height="615" fill="#1b1b72"/>
<rect x="1154" y="2" width="1" height="615" fill="#1b1b72"/>
<rect x="2" y="618" width="1153" height="1" fill="#1b1b72"/>
<rect x="2" y="698" width="1153" height="1" fill="#1b1b72"/>
<rect x="2" y="618" width="1" height="81" fill="#1b1b72"/>
<rect x="1154" y="618" width="1" height="81" fill="#1b1b72"/>
<rect x="2" y="700" width="1153" height="1" fill="#1b1b72"/>
<rect x="2" y="779" width="1153" height="1" fill="#1b1b72"/>
<rect x="2" y="700" width="1" height="80" fill="#1b1b72"/>
<rect x="1154" y="700" width="1" height="80" fill="#1b1b72"/>
<rect x="1155" y="19" width="2" height="1" fill="#1b1b72"/>
<rect x="1155" y="52" width="2" height="1" fill="#1b1b72"/>
<rect x="1155" y="85" width="2" height="1" fill="#1b1b72"/>
<rect x="1155" y="118" width="2" height="1" fill="#1b1b72"/>
<rect x="1155" y="151" width="2" height="1" fill="#1b1b72"/>
<rect x="1155" y="184" width="2" height="1" fill="#1b1b72"/>
<rect x="1155" y="217" width="2" height="1" fill="#1b1b72"/>
<rect x="1155" y="250" width="2" height="1" fill="#1b1b72"/>
<rect x="1155" y="283" width="2" height="1" fill="#1b1b72"/>
<rect x="1155" y="316" width="2" height="1" fill="#1b1b72"/>
<rect x="1155" y="349" width="2" height="1" fill="#1b1b72"/>
<rect x="1155" y="382" width="2" height="1" fill="#1b1b72"/>
<rect x="1155" y="415" width="2" height="1" fill="#1b1b72"/>
<rect x="1155" y="448" width="2" height="1" fill="#1b1b72"/>
<rect x="1155" y="481" width="2" height="1" fill="#1b1b72"/>
<rect x="1155" y="514" width="2" height="1" fill="#1b1b72"/>
<rect x="1155" y="547" width="2" height="1" fill="#1b1b72"/>
<rect x="1155" y="580" width="2" height="1" fill="#1b1b72"/>
<rect x="1155" y="613" width="2" height="1" fill="#1b1b72"/>
<rect x="1155" y="620" width="2" height="1" fill="#1b1b72"/>
<rect x="1155" y="697" width="2" height="1" fill="#1b1b72"/>
<rect x="1155" y="701" width="2" height="1" fill="#1b1b72"/>
<rect x="1155" y="741" width="2" height="1" fill="#1b1b72"/>
<rect x="1155" y="778" width="2" height="1" fill="#1b1b72"/>
<rect x="3" y="779" width="1" height="4" fill="#1b1b72"/>
<rect x="67" y="779" width="1" height="4" fill="#1b1b72"/>
<rect x="131" y="779" width="1" height="4" fill="#1b1b72"/>
<rect x="195" y="779" width="1" height="4" fill="#1b1b72"/>
<rect x="259" y="779" width="1" height="4" fill="#1b1b72"/>
<rect x="323" y="779" width="1" height="4" fill="#1b1b72"/>
<rect x="387" y="779" width="1" height="4" fill="#1b1b72"/>
<rect x="451" y="779" width="1" height="4" fill="#1b1b72"/>
<rect x="515" y="779" width="1" height="4" fill="#1b1b72"/>
<rect x="579" y="779" width="1" height="4" fill="#1b1b72"/>
<rect x="643" y="779" width="1" height="4" fill="#1b1b72"/>
<rect x="707" y="779" width="1" height="4" fill="#1b1b72"/>
<rect x="771" y="779" width="1" height="4" fill="#1b1b72"/>
<rect x="835" y="779" width="1" height="4" fill="#1b1b72"/>
<rect x="899" y="779" width="1" height="4" fill="#1b1b72"/>
<rect x="963" y="779" width="1" height="4" fill="#1b1b72"/>
<rect x="1027" y="779" width="1" height="4" fill="#1b1b72"/>
<rect x="1091" y="779" width="1" height="4" fill="#1b1b72"/>
<rect x="1156" y="117" width="41" height="11" fill="#228b22"/>
<rect x="1156" y="151" width="41" height="11" fill="#228b22"/>
<rect x="1156" y="171" width="41" height="11" fill="#1b1b72"/>
<rect x="1156" y="199" width="41" height="11" fill="#2f4f4f"/>
<rect x="1156" y="228" width="41" height="11" fill="#2f4f4f"/>
<rect x="1156" y="266" width="41" height="11" fill="#2f4f4f"/>
</g>
<g class="c">
<rect x="6" y="9" width="7" height="1" fill="#1b1b72"/>
<rect x="7" y="10" width="5" height="1" fill="#1b1b72"/>
<rect x="8" y="11" width="3" height="1" fill="#1b1b72"/>
<rect x="9" y="12" width="1" height="1" fill="#1b1b72"/>
</g>
<text x="18.6" y="13.9" textLength="54.2" lengthAdjust="spacingAndGlyphs">USDCHF,H4</text>
<text x="79.2" y="13.9" textLength="32.5" lengthAdjust="spacingAndGlyphs">0.97190</text>
<text x="115.2" y="13.9" textLength="32.5" lengthAdjust="spacingAndGlyphs">0.97428</text>
<text x="151.2" y="13.9" textLength="32.5" lengthAdjust="spacingAndGlyphs">0.97049</text>
<text x="187.2" y="13.9" textLength="32.5" lengthAdjust="spacingAndGlyphs">0.97209</text>
<text x="1160.2" y="22.9" textLength="32.8" lengthAdjust="spacingAndGlyphs">0.99190</text>
<text x="1160.2" y="55.9" textLength="32.8" lengthAdjust="spacingAndGlyphs">0.98770</text>
<text x="1160.2" y="88.9" textLength="32.8" lengthAdjust="spacingAndGlyphs">0.98360</text>
<text x="1160.2" y="121.9" textLength="32.8" lengthAdjust="spacingAndGlyphs">0.97940</text>
<text x="1160.2" y="154.9" textLength="32.8" lengthAdjust="spacingAndGlyphs">0.97520</text>
<text x="1160.2" y="187.9" textLength="32.8" lengthAdjust="spacingAndGlyphs">0.97100</text>
<text x="1160.2" y="220.9" textLength="32.8" lengthAdjust="spacingAndGlyphs">0.96690</text>
<text x="1160.2" y="253.9" textLength="32.8" lengthAdjust="spacingAndGlyphs">0.96270</text>
<text x="1160.2" y="286.9" textLength="32.8" lengthAdjust="spacingAndGlyphs">0.95850</text>
<text x="1160.2" y="319.9" textLength="32.8" lengthAdjust="spacingAndGlyphs">0.95430</text>
<text x="1160.2" y="352.9" textLength="32.8" lengthAdjust="spacingAndGlyphs">0.95010</text>
<text x="1160.2" y="385.9" textLength="32.8" lengthAdjust="spacingAndGlyphs">0.94600</text>
<text x="1160.2" y="418.9" textLength="32.8" lengthAdjust="spacingAndGlyphs">0.94180</text>
<text x="1160.2" y="451.9" textLength="32.8" lengthAdjust="spacingAndGlyphs">0.93760</text>
<text x="1160.2" y="484.9" textLength="32.8" lengthAdjust="spacingAndGlyphs">0.93340</text>
<text x="1160.2" y="517.9" textLength="32.8" lengthAdjust="spacingAndGlyphs">0.92920</text>
<text x="1160.2" y="550.9" textLength="32.8" lengthAdjust="spacingAndGlyphs">0.92510</text>
<text x="1160.2" y="583.9" textLength="32.8" lengthAdjust="spacingAndGlyphs">0.92090</text>
<text x="1160.2" y="616.9" textLength="32.8" lengthAdjust="spacingAndGlyphs">0.91670</text>
<g class="c">
<rect x="1156" y="117" width="41" height="11" fill="#228b22"/>
<rect x="1156" y="151" width="41" height="11" fill="#228b22"/>
<rect x="1156" y="171" width="41" height="11" fill="#1b1b72"/>
<rect x="1156" y="199" width="41" height="11" fill="#2f4f4f"/>
<rect x="1156" y="228" width="41" height="11" fill="#2f4f4f"/>
<rect x="1156" y="266" width="41" height="11" fill="#2f4f4f"/>
</g>
<text x="1160.2" y="126" class="w" textLength="32.8" lengthAdjust="spacingAndGlyphs">0.97881</text>
<text x="1160.2" y="160" class="w" textLength="32.8" lengthAdjust="spacingAndGlyphs">0.97442</text>
<text x="1160.2" y="179" class="w" textLength="32.8" lengthAdjust="spacingAndGlyphs">0.97209</text>
<text x="1160.2" y="208" class="w" textLength="32.8" lengthAdjust="spacingAndGlyphs">0.96841</text>
<text x="1160.2" y="237" class="w" textLength="32.8" lengthAdjust="spacingAndGlyphs">0.96475</text>
<text x="1160.2" y="275" class="w" textLength="32.8" lengthAdjust="spacingAndGlyphs">0.95991</text>
<text x="7.7" y="630.9" textLength="30.6" lengthAdjust="spacingAndGlyphs">RSI(14)</text>
<text x="42" y="630.9" textLength="32.4" lengthAdjust="spacingAndGlyphs">48.8393</text>
<text x="1158.6" y="628.95" textLength="15.29" lengthAdjust="spacingAndGlyphs">100</text>
<text x="1157.6" y="647.25" textLength="10.2" lengthAdjust="spacingAndGlyphs">70</text>
<text x="1157.6" y="678.05" textLength="10.2" lengthAdjust="spacingAndGlyphs">30</text>
<text x="1158" y="695.15" textLength="5.1" lengthAdjust="spacingAndGlyphs">0</text>
<text x="7.5" y="712.8" textLength="66" lengthAdjust="spacingAndGlyphs">MACD(12,26,9)</text>
<text x="76.7" y="712.8" textLength="37" lengthAdjust="spacingAndGlyphs">0.000278</text>
<text x="117.4" y="712.8" textLength="37" lengthAdjust="spacingAndGlyphs">0.001502</text>
<text x="1158" y="711.25" textLength="37.5" lengthAdjust="spacingAndGlyphs">0.010211</text>
<text x="1158" y="744.95" textLength="18" lengthAdjust="spacingAndGlyphs">0.00</text>
<text x="1158" y="776.55" textLength="40" lengthAdjust="spacingAndGlyphs">-0.009615</text>
<text x="2.3" y="792.1" textLength="46.37" lengthAdjust="spacingAndGlyphs">6 Mar 2020</text>
<text x="66.3" y="792.1" textLength="48.92" lengthAdjust="spacingAndGlyphs">9 Mar 20:00</text>
<text x="130.3" y="792.1" textLength="53.33" lengthAdjust="spacingAndGlyphs">11 Mar 04:00</text>
<text x="194.3" y="792.1" textLength="54.01" lengthAdjust="spacingAndGlyphs">12 Mar 12:00</text>
<text x="258.3" y="792.1" textLength="54.01" lengthAdjust="spacingAndGlyphs">13 Mar 20:00</text>
<text x="322.3" y="792.1" textLength="54.01" lengthAdjust="spacingAndGlyphs">17 Mar 04:00</text>
<text x="386.3" y="792.1" textLength="54.01" lengthAdjust="spacingAndGlyphs">18 Mar 12:00</text>
<text x="450.3" y="792.1" textLength="54.01" lengthAdjust="spacingAndGlyphs">19 Mar 20:00</text>
<text x="514.3" y="792.1" textLength="54.01" lengthAdjust="spacingAndGlyphs">23 Mar 04:00</text>
<text x="578.3" y="792.1" textLength="54.01" lengthAdjust="spacingAndGlyphs">24 Mar 12:00</text>
<text x="642.3" y="792.1" textLength="54.01" lengthAdjust="spacingAndGlyphs">25 Mar 20:00</text>
<text x="706.3" y="792.1" textLength="54.01" lengthAdjust="spacingAndGlyphs">27 Mar 04:00</text>
<text x="770.3" y="792.1" textLength="54.01" lengthAdjust="spacingAndGlyphs">30 Mar 12:00</text>
<text x="834.3" y="792.1" textLength="54.01" lengthAdjust="spacingAndGlyphs">31 Mar 20:00</text>
<text x="898.3" y="792.1" textLength="46.89" lengthAdjust="spacingAndGlyphs">2 Apr 04:00</text>
<text x="962.3" y="792.1" textLength="46.89" lengthAdjust="spacingAndGlyphs">3 Apr 12:00</text>
<text x="1026.3" y="792.1" textLength="46.89" lengthAdjust="spacingAndGlyphs">6 Apr 20:00</text>
<text x="1090.3" y="792.1" textLength="46.89" lengthAdjust="spacingAndGlyphs">8 Apr 04:00</text>
</svg></body></html>
